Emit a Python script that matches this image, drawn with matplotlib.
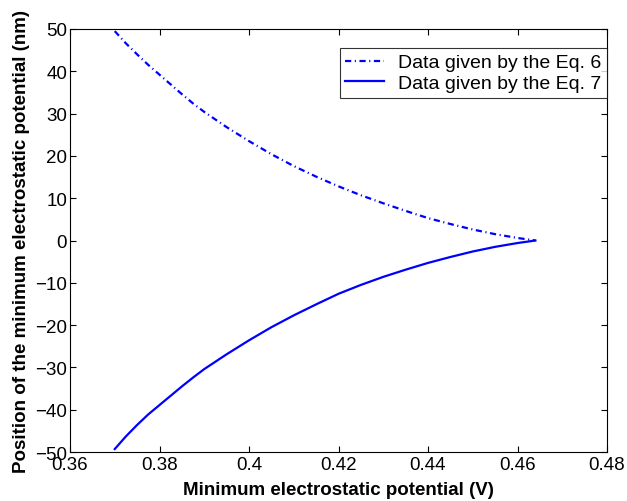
import matplotlib
matplotlib.use("Agg")
import matplotlib.pyplot as plt
from matplotlib.ticker import FixedLocator, FixedFormatter

plt.rcParams['font.family'] = ['Liberation Sans', 'DejaVu Sans']

# Data
x_eq6 = [0.370, 0.3725, 0.375, 0.3775, 0.380, 0.3825, 0.385, 0.3875, 0.390, 0.395,
         0.400, 0.405, 0.410, 0.415, 0.420, 0.425, 0.430, 0.435, 0.440, 0.445,
         0.450, 0.455, 0.460, 0.464]
y_eq6 = [49.5, 46.6, 44.0, 41.5, 39.2, 36.9, 34.6, 32.4, 30.4, 26.8,
         23.5, 20.4, 17.6, 15.1, 12.8, 10.7, 8.8, 7.0, 5.3, 3.9,
         2.6, 1.5, 0.6, 0.0]
x_eq7 = [0.370, 0.3725, 0.375, 0.3775, 0.380, 0.3825, 0.385, 0.3875, 0.390, 0.395,
         0.400, 0.405, 0.410, 0.415, 0.420, 0.425, 0.430, 0.435, 0.440, 0.445,
         0.450, 0.455, 0.460, 0.464]
y_eq7 = [-49.3, -46.3, -43.6, -41.1, -38.9, -36.7, -34.5, -32.4, -30.4, -26.9,
         -23.6, -20.5, -17.7, -15.1, -12.6, -10.5, -8.6, -6.9, -5.3, -3.9,
         -2.6, -1.5, -0.6, 0.0]

series_labels = ["Data given by the Eq. 6", "Data given by the Eq. 7"]
x_ticks = [0.36, 0.38, 0.40, 0.42, 0.44, 0.46, 0.48]
x_tick_labels = ["0.36", "0.38", "0.4", "0.42", "0.44", "0.46", "0.48"]
y_ticks = [-50, -40, -30, -20, -10, 0, 10, 20, 30, 40, 50]
y_tick_labels = ["\u221250", "\u221240", "\u221230", "\u221220", "\u221210", "0",
                 "10", "20", "30", "40", "50"]

fig = plt.figure(figsize=(6.27, 5.02), dpi=100)
ax = fig.add_axes([70/627, 49/502, 537/627, 423/502])

ax.plot(x_eq6, y_eq6, color='#0000ff', lw=1.6, linestyle=(0, (2.8, 1.6, 0.5, 1.6)),
        label=series_labels[0])
ax.plot(x_eq7, y_eq7, color='#0000ff', lw=1.6, linestyle='-', label=series_labels[1])

ax.set_xlim(0.36, 0.48)
ax.set_ylim(-50, 50)
ax.xaxis.set_major_locator(FixedLocator(x_ticks))
ax.xaxis.set_major_formatter(FixedFormatter(x_tick_labels))
ax.yaxis.set_major_locator(FixedLocator(y_ticks))
ax.yaxis.set_major_formatter(FixedFormatter(y_tick_labels))
ax.tick_params(direction='in', length=4, width=0.8, top=True, right=True,
               labelsize=13.5, pad=2)
ax.tick_params(axis='x', pad=3)
for s in ax.spines.values():
    s.set_linewidth(0.8)

ax.set_xlabel("Minimum electrostatic potential (V)", fontsize=13.5, fontweight='bold',
              labelpad=6)
ax.set_ylabel("Position of the minimum electrostatic potential (nm)", fontsize=13.5,
              fontweight='bold', labelpad=4)

leg = ax.legend(loc='upper right', bbox_to_anchor=(1.0, 404/423), borderaxespad=0,
                fontsize=14, frameon=True, fancybox=False, edgecolor='black',
                handlelength=2.0, labelspacing=0.15, borderpad=0.3, handletextpad=0.7)
leg.get_frame().set_linewidth(0.8)

fig.savefig("out.png", dpi=100)
